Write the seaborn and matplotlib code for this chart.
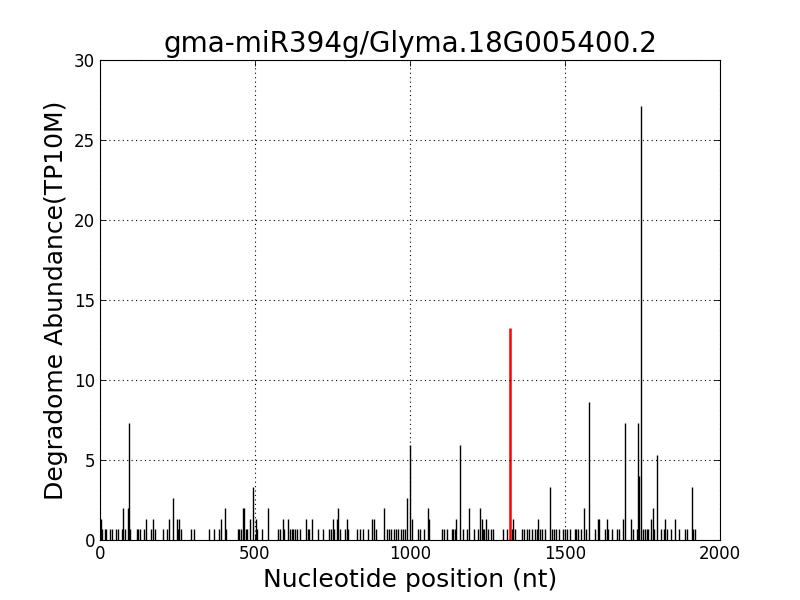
import matplotlib
matplotlib.use("Agg")
import matplotlib.pyplot as plt
import seaborn as sns
import pandas as pd

title = "gma-miR394g/Glyma.18G005400.2"

# degradome tags: position (nt) and abundance (TP10M)
positions = [3, 8, 15, 20, 33, 38, 50, 58, 70, 74, 81, 89, 92, 96, 118, 123, 128, 143, 148, 164,
             172, 177, 204, 215, 222, 236, 247, 252, 255, 260, 294, 303, 352, 369, 384, 390, 403, 408,
             444, 448, 455, 462, 466, 470, 475, 485, 493,
             503, 508, 522, 543, 575, 581, 589, 593, 608, 613, 618, 623, 629, 635, 645, 665, 670, 675,
             683, 704, 718, 739, 745, 750, 755, 763, 769, 774, 790, 796, 801, 828, 839, 847, 866, 876,
             884, 889, 916, 925, 932, 940, 948, 955, 962, 970, 977, 984, 991,
             1000, 1005, 1027, 1032, 1045, 1059, 1062, 1104, 1110, 1118, 1134, 1140, 1145, 1148, 1161,
             1172, 1183, 1191, 1208, 1220, 1226, 1231, 1235, 1240, 1245, 1250, 1260, 1269, 1301, 1312,
             1328, 1333, 1338, 1360, 1367, 1376, 1385, 1395, 1402, 1409, 1414, 1420, 1427, 1437, 1452,
             1457, 1465, 1472, 1480, 1494,
             1500, 1508, 1516, 1532, 1537, 1542, 1551, 1560, 1567, 1579, 1597, 1606, 1610, 1629, 1635,
             1640, 1650, 1667, 1675, 1686, 1692, 1713, 1718, 1733, 1737, 1740, 1745, 1753, 1758, 1763,
             1769, 1776, 1783, 1788, 1796, 1811, 1818, 1823, 1828, 1843, 1855, 1869, 1887, 1895, 1909,
             1914, 1919]
abundance = [1.33, 0.66, 0.66, 0.66, 0.66, 0.66, 0.66, 0.66, 0.66, 1.99, 0.66, 1.99, 7.29, 0.66, 0.66, 0.66, 0.66, 0.66, 1.33, 0.66,
             1.33, 0.66, 0.66, 0.66, 1.33, 2.65, 1.33, 0.66, 1.33, 0.66, 0.66, 0.66, 0.66, 0.66, 0.66, 1.33, 1.99, 0.66,
             0.66, 0.66, 0.66, 1.99, 1.99, 0.66, 0.66, 1.33, 3.31,
             1.33, 0.66, 0.66, 1.99, 0.66, 0.66, 1.33, 0.66, 1.33, 0.66, 0.66, 0.66, 0.66, 0.66, 0.66, 1.33, 0.66, 0.66,
             1.33, 0.66, 0.66, 0.66, 0.66, 1.33, 0.66, 1.33, 1.99, 0.66, 0.66, 1.33, 0.66, 0.66, 0.66, 0.66, 0.66, 1.33,
             1.33, 0.66, 1.99, 0.66, 0.66, 0.66, 0.66, 0.66, 0.66, 0.66, 0.66, 0.66, 2.65,
             5.96, 1.33, 0.66, 0.66, 0.66, 1.99, 1.33, 0.66, 0.66, 0.66, 0.66, 0.66, 0.66, 1.33, 5.96,
             0.66, 0.66, 1.99, 0.66, 0.66, 1.99, 1.33, 0.66, 0.66, 1.33, 0.66, 0.66, 0.66, 0.66, 0.66,
             0.66, 1.33, 0.66, 0.66, 0.66, 0.66, 0.66, 0.66, 0.66, 0.66, 1.33, 0.66, 0.66, 0.66, 3.31,
             0.66, 0.66, 0.66, 0.66, 0.66,
             0.66, 0.66, 0.66, 0.66, 0.66, 0.66, 0.66, 1.99, 0.66, 8.61, 0.66, 1.33, 1.33, 0.66, 1.33,
             0.66, 0.66, 0.66, 0.66, 1.33, 7.29, 1.33, 0.66, 0.66, 7.29, 3.97, 27.1, 0.66, 0.66, 0.66,
             0.66, 1.33, 1.99, 0.66, 5.3, 0.66, 0.66, 1.33, 0.66, 0.66, 1.33, 0.66, 0.66, 0.66, 3.31,
             0.66, 0.66]

# cleavage site predicted for the miRNA
site_pos = [1323]
site_abundance = [13.25]

df = pd.DataFrame({"pos": positions, "val": abundance})
site = pd.DataFrame({"pos": site_pos, "val": site_abundance})

sns.set_style("white", rc={
    "xtick.direction": "in", "ytick.direction": "in",
    "xtick.top": True, "ytick.right": True,
    "xtick.bottom": True, "ytick.left": True,
    "axes.edgecolor": "black", "axes.linewidth": 1.0,
    "axes.grid": True, "grid.color": "black", "grid.linestyle": (0, (1, 3)),
    "grid.linewidth": 0.5,
    "text.color": "black", "axes.labelcolor": "black",
    "xtick.color": "black", "ytick.color": "black",
})
plt.rcParams["font.family"] = ["DejaVu Sans"]

fig, ax = plt.subplots(figsize=(8, 6), dpi=100)
fig.subplots_adjust(left=0.125, right=0.9, bottom=0.1, top=0.9)

ax.vlines(df["pos"], 0, df["val"], color="black", linewidth=1.0)
ax.vlines(site["pos"], 0, site["val"], color="red", linewidth=1.8)

ax.set_xlim(0, 2000)
ax.set_ylim(0, 30)
ax.set_xticks([0, 500, 1000, 1500, 2000])
ax.set_yticks(range(0, 31, 5))
ax.tick_params(which="major", length=4, width=0.6, labelsize=12, color="black")
ax.set_axisbelow(False)

ax.set_title(title, fontsize=20)
ax.set_xlabel("Nucleotide position (nt)", fontsize=18)
ax.set_ylabel("Degradome Abundance(TP10M)", fontsize=18)

plt.savefig("out.png", dpi=100)
